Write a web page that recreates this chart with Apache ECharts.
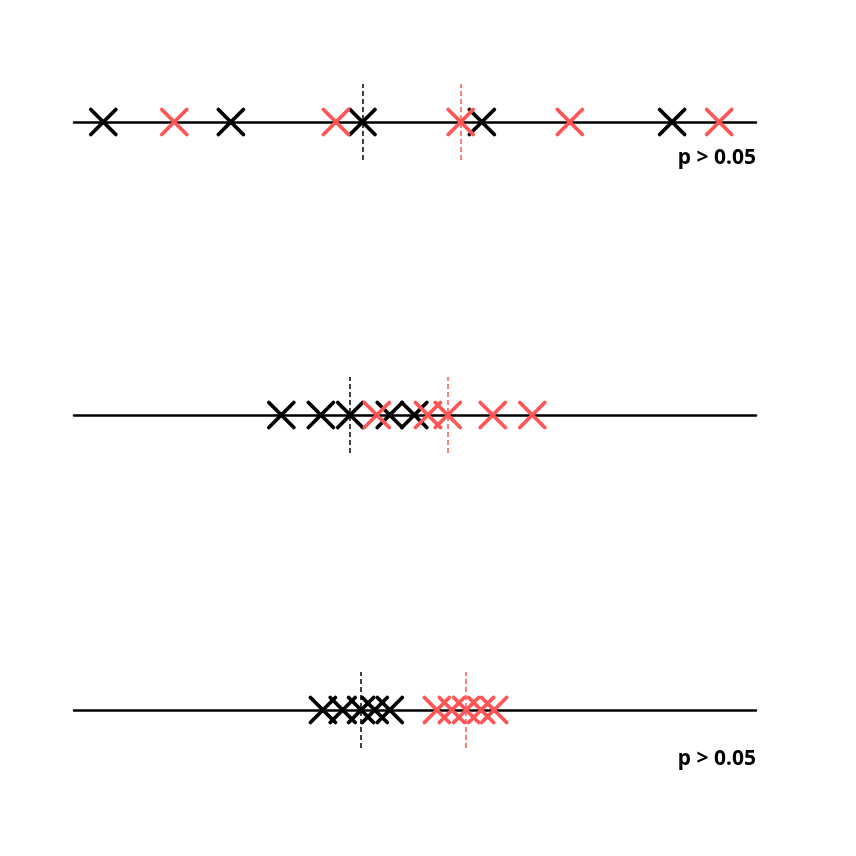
<!DOCTYPE html>
<html>
<head>
<meta charset="utf-8">
<script src="https://cdn.jsdelivr.net/npm/echarts@6/dist/echarts.min.js"></script>
<style>html,body{margin:0;padding:0;background:#fff}#c{width:856px;height:856px}</style>
</head>
<body>
<div id="c"></div>
<script>
// Data (x positions on a 0..100 scale)
var blackRow1 = [4.3, 23.0, 42.3, 59.8, 87.7];
var redRow1   = [14.7, 38.4, 56.7, 72.7, 94.6];
var blackRow2 = [30.4, 36.2, 40.5, 46.3, 49.9];
var redRow2   = [44.4, 51.9, 54.8, 61.4, 67.2];
var blackRow3 = [36.5, 39.4, 42.1, 44.1, 46.3];
var redRow3   = [53.2, 55.4, 57.5, 59.7, 61.6];
var pLabels   = ['p > 0.05', '', 'p > 0.05'];

var blackRows = [blackRow1, blackRow2, blackRow3];
var redRows = [redRow1, redRow2, redRow3];

function median(a){ var s=a.slice().sort(function(x,y){return x-y;}); var n=s.length; return n%2? s[(n-1)/2] : (s[n/2-1]+s[n/2])/2; }

// Layout
var BLACK = '#000000', RED = '#ff5555';
var centers = [122, 415, 710];
var labelY = [158, 0, 759];
var half = 38;
var cross = 'path://M0,0L10,10M10,0L0,10';

var grids = [], xAxes = [], yAxes = [], series = [], graphics = [];
centers.forEach(function(cy, i){
  grids.push({left: 74, width: 682, top: cy - half, height: half*2});
  xAxes.push({type:'value', gridIndex:i, min:0, max:100,
    axisLine:{show:true, onZero:true, lineStyle:{color:'#000', width:2.5}},
    axisTick:{show:false}, axisLabel:{show:false}, splitLine:{show:false}});
  yAxes.push({type:'value', gridIndex:i, min:-1, max:1, show:false});
  [[blackRows[i], BLACK], [redRows[i], RED]].forEach(function(pair){
    series.push({
      type:'scatter', xAxisIndex:i, yAxisIndex:i,
      data: pair[0].map(function(v){return [v, 0];}),
      symbol: cross, symbolSize: 25,
      itemStyle:{color:'rgba(0,0,0,0)', borderColor:pair[1], borderWidth:3.8, borderCap:'round', opacity:1},
      emphasis:{disabled:true}, silent:true, z: 3,
      markLine:{
        silent:true, symbol:['none','none'], animation:false,
        label:{show:false},
        lineStyle:{color:pair[1], type:[5,3], width:1.5},
        data:[{xAxis: median(pair[0])}]
      }
    });
  });
  if (pLabels[i]) {
    graphics.push({type:'text', x:756, y:labelY[i],
      style:{text:pLabels[i], fill:'#000', font:'bold 21px "Noto Sans"', textAlign:'right', textVerticalAlign:'middle'}});
  }
});

var chart = echarts.init(document.getElementById('c'), null, {renderer:'canvas'});
chart.setOption({
  animation:false,
  backgroundColor:'#fff',
  grid: grids, xAxis: xAxes, yAxis: yAxes, series: series, graphic: graphics
});
</script>
</body>
</html>
